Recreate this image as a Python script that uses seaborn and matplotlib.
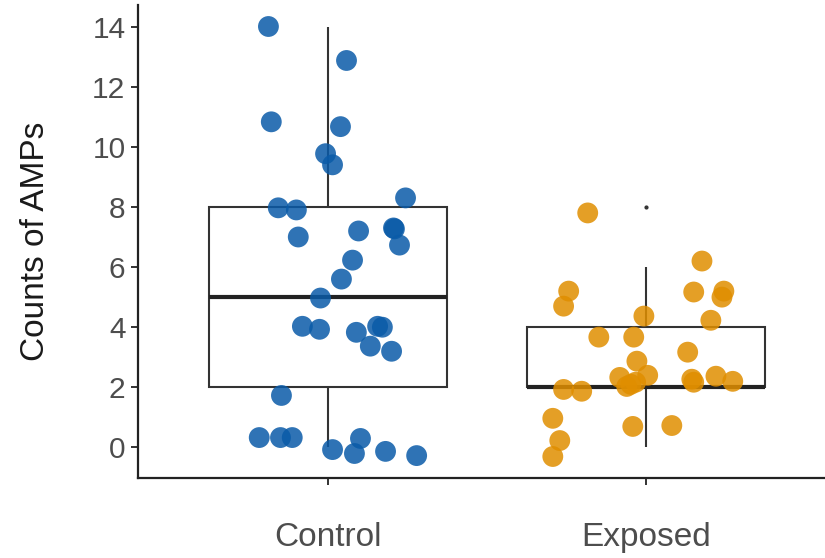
import numpy as np
import pandas as pd
import matplotlib
matplotlib.use('Agg')
import matplotlib.pyplot as plt
import seaborn as sns

# groups
groups = ['Control', 'Exposed']

# jittered points as drawn (y value, x offset from category centre)
control_y = [14.0, 12.87, 10.83, 10.67, 9.77, 9.4, 8.3, 7.97, 7.9, 7.0, 7.2, 7.3, 7.27,
             6.73, 6.23, 5.6, 4.97, 4.03, 3.93, 3.83, 4.03, 4.0, 3.37, 3.2, 1.73,
             0.33, 0.33, 0.33, -0.07, 0.3, -0.2, -0.13, -0.27]
control_dx = [-0.189, 0.057, -0.180, 0.038, -0.009, 0.013, 0.243, -0.158, -0.101, -0.095,
              0.095, 0.205, 0.208, 0.224, 0.076, 0.041, -0.025, -0.082, -0.028, 0.088,
              0.155, 0.170, 0.132, 0.199, -0.148, -0.218, -0.151, -0.114, 0.013, 0.101,
              0.082, 0.180, 0.278]
exposed_y = [7.8, 6.2, 5.2, 4.7, 5.17, 5.2, 5.0, 4.23, 4.37, 3.67, 3.67, 3.17, 2.87,
             2.33, 2.03, 2.17, 2.4, 2.1, 2.27, 2.17, 2.37, 2.2, 1.93, 1.87, 0.97,
             0.23, -0.3, 0.7, 0.73]
exposed_dx = [-0.183, 0.177, -0.243, -0.259, 0.151, 0.246, 0.240, 0.205, -0.006, -0.148,
              -0.038, 0.132, -0.028, -0.082, -0.060, -0.032, 0.006, -0.047, 0.145, 0.151,
              0.221, 0.274, -0.259, -0.202, -0.293, -0.271, -0.293, -0.041, 0.082]

yticks = [0, 2, 4, 6, 8, 10, 12, 14]

# raw counts = jittered values without vertical jitter
pts = pd.DataFrame({
    'group': ['Control'] * len(control_y) + ['Exposed'] * len(exposed_y),
    'y': control_y + exposed_y,
    'dx': control_dx + exposed_dx,
})
pts['count'] = np.round(pts['y'])
pts['xpos'] = pts['group'].map({g: i for i, g in enumerate(groups)}) + pts['dx']

colors = {'Control': '#0a5ba8', 'Exposed': '#e08e00'}
line_col = '#333333'

plt.rcParams['font.family'] = ['Liberation Sans', 'DejaVu Sans']

fig = plt.figure(figsize=(8.25, 5.58), dpi=100)
ax = fig.add_axes([138 / 825, 1 - 478 / 558, 1 - 138 / 825, (478 - 5) / 558])

sns.boxplot(data=pts, x='group', y='count', order=groups, ax=ax,
            width=0.75, color='white', linecolor=line_col, linewidth=1.5,
            showcaps=False,
            medianprops={'linewidth': 3, 'color': '#222222'},
            flierprops={'marker': 'o', 'markersize': 2, 'markerfacecolor': line_col,
                        'markeredgecolor': line_col})

sns.scatterplot(data=pts, x='xpos', y='y', hue='group', palette=colors, ax=ax,
                s=225, alpha=0.85, linewidth=0, legend=False, zorder=3)

ax.set_xlim(-0.6, (825 - 329) / 317)
ax.set_ylim(-1.015, 14.715)
ax.set_xticks([0, 1])
ax.set_xticklabels(groups)
ax.set_yticks(yticks)
ax.set_xlabel('')
ax.set_ylabel('Counts of AMPs', fontsize=24, color='#1a1a1a', labelpad=30)
ax.tick_params(axis='y', labelsize=21.5, labelcolor='#4d4d4d', length=5, width=1.4,
               color=line_col, pad=4)
ax.tick_params(axis='x', labelsize=24, labelcolor='#4d4d4d', length=5, width=1.4,
               color=line_col, pad=27)
sns.despine(ax=ax)
for s in ['left', 'bottom']:
    ax.spines[s].set_linewidth(1.6)
    ax.spines[s].set_color('#222222')

plt.savefig('out.png', dpi=100)
